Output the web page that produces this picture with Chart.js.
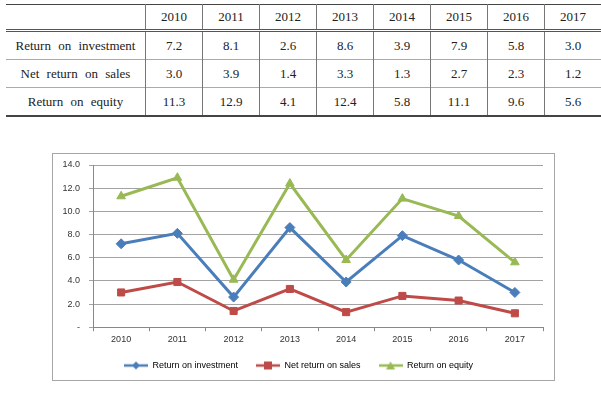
<!DOCTYPE html>
<html>
<head>
<meta charset="utf-8">
<script src="https://cdn.jsdelivr.net/npm/chart.js@4.4.1/dist/chart.umd.min.js"></script>
<style>
  html, body { margin: 0; padding: 0; background: #fff; }
  body { width: 601px; height: 394px; position: relative; overflow: hidden; }
  table {
    position: absolute; left: 6px; top: 4px;
    border-collapse: collapse;
    font-family: "Liberation Serif", "Times New Roman", serif;
    font-size: 13px; color: #222;
    border-top: 1px solid #444;
    border-bottom: 2px solid #444;
  }
  td {
    text-align: center; padding: 0; height: 27px;
    border-left: 1px solid #777;
    border-top: 1px solid #aaa;
    width: 56px;
    word-spacing: 4px;
  }
  td:first-child { border-left: none; width: 139px; }
  tr.head td { height: 24px; border-top: none; border-bottom: 3px double #555; }
  #box {
    position: absolute; left: 52px; top: 153px; width: 501px; height: 226px;
    border: 1px solid #a6a6a6;
  }
  #wrap { position: absolute; left: 1px; top: 1px; width: 500px; height: 225px; }
  #cap {
    position: absolute; left: 182px; top: 392px;
    font-family: "Liberation Sans", Arial, sans-serif; font-size: 12px;
    color: #444; letter-spacing: 2px; word-spacing: 6px; white-space: nowrap;
  }
</style>
</head>
<body>
<table id="tbl"></table>
<div id="box"><div id="wrap"><canvas id="Chart"></canvas></div></div>
<div id="cap">Fig. 3. Change of profitability ratios</div>
<script>
let years = ['2010', '2011', '2012', '2013', '2014', '2015', '2016', '2017'];
let names = ['Return on investment', 'Net return on sales', 'Return on equity'];
let investment = [7.2, 8.1, 2.6, 8.6, 3.9, 7.9, 5.8, 3.0];
let sales = [3.0, 3.9, 1.4, 3.3, 1.3, 2.7, 2.3, 1.2];
let equity = [11.3, 12.9, 4.1, 12.4, 5.8, 11.1, 9.6, 5.6];
let colors = ['#4a7ebb', '#be4b48', '#98b954'];
let markers = ['rectRot', 'rect', 'triangle'];

// table
let tbl = document.getElementById('tbl');
let html = '<tr class="head"><td></td>' + years.map(y => '<td>' + y + '</td>').join('') + '</tr>';
[investment, sales, equity].forEach((row, i) => {
  html += '<tr><td>' + names[i] + '</td>' + row.map(v => '<td>' + v.toFixed(1) + '</td>').join('') + '</tr>';
});
tbl.innerHTML = html;

// legend icons: line with marker
function legendIcon(color, style) {
  let c = document.createElement('canvas');
  c.width = 24; c.height = 10;
  let g = c.getContext('2d');
  g.strokeStyle = color; g.lineWidth = 2.5;
  g.beginPath(); g.moveTo(0, 5); g.lineTo(24, 5); g.stroke();
  g.fillStyle = color;
  g.beginPath();
  if (style == 'rectRot') { g.moveTo(12, 1); g.lineTo(16, 5); g.lineTo(12, 9); g.lineTo(8, 5); }
  else if (style == 'rect') { g.rect(8, 1, 8, 8); }
  else { g.moveTo(12, 1); g.lineTo(16.5, 9); g.lineTo(7.5, 9); }
  g.closePath(); g.fill();
  return c;
}

let lineCtx = document.getElementById('Chart');
let lineConfig = {
  type: 'line',
  data: {
    labels: years,
    datasets: [investment, sales, equity].map((d, i) => ({
      label: names[i],
      data: d,
      borderColor: colors[i],
      backgroundColor: colors[i],
      borderWidth: 3,
      pointStyle: markers[i],
      pointRadius: 5,
      pointBorderWidth: 1,
      tension: 0
    }))
  },
  options: {
    responsive: true,
    maintainAspectRatio: false,
    animation: false,
    layout: { padding: { left: 0, right: 11, top: 10, bottom: 0 } },
    scales: {
      x: {
        offset: true,
        afterFit: s => { s.height -= 5; },
        grid: { offset: true, drawOnChartArea: false, drawTicks: true, tickLength: 4, color: '#888' },
        border: { color: '#888' },
        ticks: { color: '#333', font: { family: 'Liberation Sans', size: 9 }, padding: 3 }
      },
      y: {
        min: 0, max: 14,
        afterFit: s => { s.width = 39; s.paddingTop = 0; },
        grid: { color: '#a3a3a3', tickLength: 4 },
        border: { color: '#888' },
        ticks: {
          stepSize: 2,
          color: '#333',
          font: { family: 'Liberation Sans', size: 9 },
          padding: 9,
          callback: v => v == 0 ? '-' : v.toFixed(1)
        }
      }
    },
    plugins: {
      tooltip: { enabled: false },
      legend: {
        position: 'bottom',
        labels: {
          usePointStyle: true,
          pointStyleWidth: 24,
          boxHeight: 9,
          padding: 18,
          color: '#333',
          font: { family: 'Liberation Sans', size: 9 },
          generateLabels: chart => chart.data.datasets.map((ds, i) => ({
            text: ds.label,
            pointStyle: legendIcon(colors[i], markers[i]),
            fillStyle: colors[i],
            strokeStyle: colors[i],
            lineWidth: 0,
            datasetIndex: i
          }))
        }
      }
    }
  }
};
let lineChart = new Chart(lineCtx, lineConfig);
</script>
</body>
</html>
